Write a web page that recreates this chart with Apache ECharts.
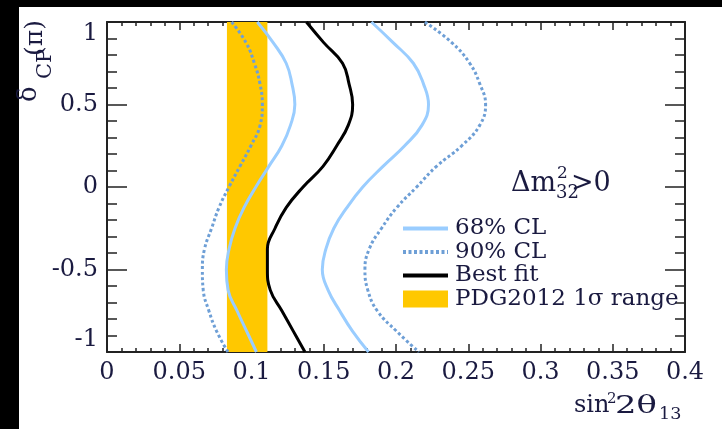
<!DOCTYPE html>
<html><head><meta charset="utf-8">
<script src="https://cdn.jsdelivr.net/npm/echarts@6/dist/echarts.min.js"></script>
<style>html,body{margin:0;padding:0;background:#fff}#c{width:722px;height:429px}</style>
</head><body><div id="c"></div><script>
// delta_CP values (units of pi)
const dcp = [1, 0.875, 0.75, 0.625, 0.5, 0.375, 0.25, 0.125, 0, -0.125, -0.25, -0.375, -0.5, -0.625, -0.75, -0.875, -1];
// sin^2 2theta13 values along each contour
const bestFit = [0.138, 0.150, 0.163, 0.1675, 0.170, 0.167, 0.159, 0.1495, 0.1357, 0.124, 0.1163, 0.111, 0.111, 0.113, 0.121, 0.129, 0.137];
const cl68Left = [0.104, 0.115, 0.124, 0.128, 0.130, 0.127, 0.121, 0.112, 0.103, 0.0948, 0.0886, 0.0845, 0.0826, 0.0838, 0.090, 0.0967, 0.1034];
const cl68Right = [0.183, 0.198, 0.212, 0.219, 0.2225, 0.218, 0.206, 0.191, 0.177, 0.166, 0.157, 0.1515, 0.149, 0.153, 0.161, 0.170, 0.181];
const cl90Left = [0.0863, 0.0962, 0.102, 0.1059, 0.1075, 0.106, 0.0996, 0.092, 0.0844, 0.0775, 0.0724, 0.0675, 0.0660, 0.0666, 0.0705, 0.0759, 0.0837];
const cl90Right = [0.220, 0.2386, 0.251, 0.258, 0.262, 0.258, 0.2455, 0.228, 0.2143, 0.2005, 0.190, 0.1815, 0.1785, 0.1805, 0.187, 0.2005, 0.2158];
const pdgBand = [0.083, 0.111];
const legendNames = ['68% CL', '90% CL', 'Best fit', 'PDG2012 1σ range'];

const pairs = arr => dcp.map((d, i) => [arr[i], d]);
const FONT = 'DejaVu Serif';
const TXT = '#1a1a40';
const AX = '#222';

function xAx(pos, showLabel) {
  return {
    type: 'value', position: pos, min: 0, max: 0.4, interval: 0.05,
    axisLine: { onZero: false, lineStyle: { color: AX, width: 2 } },
    axisTick: { inside: true, length: 8, lineStyle: { color: AX, width: 1.5 } },
    minorTick: { show: true, splitNumber: 5, length: 4, lineStyle: { color: AX, width: 1.5 } },
    axisLabel: { show: showLabel, fontFamily: FONT, fontSize: 24, color: TXT, margin: 9 },
    splitLine: { show: false }, minorSplitLine: { show: false }
  };
}
function yAx(pos, showLabel) {
  return {
    type: 'value', position: pos, min: -1, max: 1, interval: 0.5,
    axisLine: { onZero: false, lineStyle: { color: AX, width: 2 } },
    axisTick: { inside: true, length: 20, lineStyle: { color: AX, width: 1.5 } },
    minorTick: { show: true, splitNumber: 5, length: 10, lineStyle: { color: AX, width: 1.5 } },
    axisLabel: { show: showLabel, fontFamily: FONT, fontSize: 24, color: TXT, margin: 9,
      verticalAlignMaxLabel: 'top', verticalAlignMinLabel: 'bottom' },
    splitLine: { show: false }, minorSplitLine: { show: false }
  };
}
function lineSeries(name, arr, color, type) {
  return {
    name: name, type: 'line', data: pairs(arr), symbol: 'none', smooth: 0.45, z: 3,
    color: color, itemStyle: { color: color },
    lineStyle: { color: color, width: 3, type: type || 'solid' }
  };
}
function t(text, x, y, size, extra) {
  return Object.assign({ type: 'text', x: x, y: y, z: 100,
    style: { text: text, fontFamily: FONT, fontSize: size, fill: TXT, align: 'left', verticalAlign: 'middle' } }, extra || {});
}

const chart = echarts.init(document.getElementById('c'));
chart.setOption({
  backgroundColor: '#fff',
  animation: false,
  grid: { left: 107, right: 37, top: 22, bottom: 77, containLabel: false },
  xAxis: [xAx('bottom', true), xAx('top', false)],
  yAxis: [yAx('left', true), yAx('right', false)],
  legend: {
    orient: 'vertical', left: 401, top: 217, padding: 0, itemGap: 0.5,
    itemWidth: 45, itemHeight: 17,
    lineStyle: { width: 4 },
    textStyle: { fontFamily: FONT, fontSize: 23, color: TXT, lineHeight: 23, padding: [0, 0, 0, 2] },
    data: [
      { name: legendNames[0], itemStyle: { opacity: 0 } },
      { name: legendNames[1], itemStyle: { opacity: 0 } },
      { name: legendNames[2], itemStyle: { opacity: 0 } },
      { name: legendNames[3], icon: 'rect', itemStyle: { color: '#FFC800' } }
    ]
  },
  series: [
    { name: legendNames[3], type: 'line', data: [], z: 1, color: '#FFC800',
      itemStyle: { color: '#FFC800' }, lineStyle: { color: '#FFC800' },
      markArea: { silent: true, itemStyle: { color: '#FFC800', opacity: 1 },
        data: [[{ xAxis: pdgBand[0] }, { xAxis: pdgBand[1] }]] } },
    lineSeries(legendNames[0], cl68Left, '#9ACDFF'),
    lineSeries(legendNames[0], cl68Right, '#9ACDFF'),
    lineSeries(legendNames[1], cl90Left, '#6E9FD6', [3, 2.5]),
    lineSeries(legendNames[1], cl90Right, '#6E9FD6', [3, 2.5]),
    lineSeries(legendNames[2], bestFit, '#000000')
  ],
  graphic: { elements: [
    { type: 'rect', shape: { x: 0, y: 0, width: 722, height: 7 }, style: { fill: '#000' }, z: 100 },
    { type: 'rect', shape: { x: 0, y: 0, width: 19, height: 429 }, style: { fill: '#000' }, z: 100 },
    // y-axis title  δ_CP (π), rotated
    t('δ', 29, 102, 26, { rotation: Math.PI / 2 }),
    t('CP', 46, 79, 21, { rotation: Math.PI / 2 }),
    t('(π)', 35, 56, 25, { rotation: Math.PI / 2 }),
    // x-axis title  sin^2 2θ_13
    t('sin', 574, 406, 24),
    t('2', 607, 399, 15),
    t('2θ', 615, 406, 25, { scaleX: 1.35 }),
    t('13', 659, 415, 16, { scaleX: 1.1 }),
    // annotation  Δm^2_32 > 0
    t('Δm', 511, 184, 27),
    t('2', 557, 174, 17),
    t('32', 556, 193, 18),
    t('>0', 571, 184, 27)
  ] }
});
</script></body></html>
